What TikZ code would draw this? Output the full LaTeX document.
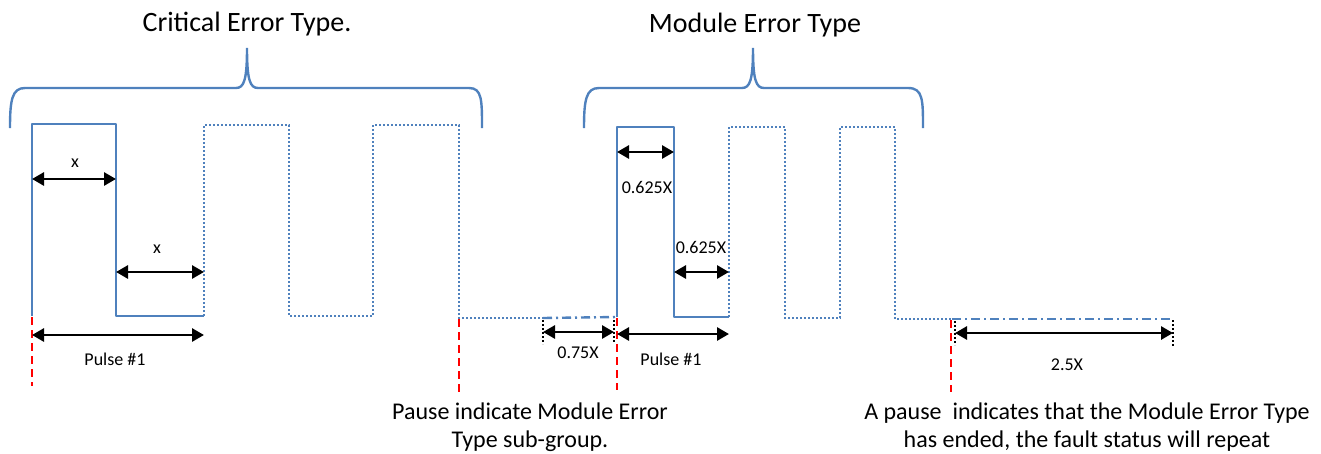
\documentclass[tikz,border=0pt]{standalone}
\usepackage{fontspec}
\setmainfont{Carlito}
\usetikzlibrary{arrows.meta}
\definecolor{wave}{RGB}{79,129,189}
\begin{document}
\begin{tikzpicture}[x=1pt,y=-1pt,
 wsolid/.style={wave,line width=2.4pt,line join=round},
 wdot/.style={wave,line width=2.2pt,dash pattern=on 2pt off 2pt},
 wdashdot/.style={wave,line width=2.4pt,dash pattern=on 9pt off 4pt on 2pt off 4pt},
 redline/.style={red,line width=2.2pt,dash pattern=on 8pt off 5pt},
 tick/.style={black,line width=2.2pt,dash pattern=on 2pt off 2pt},
 dim/.style={black,line width=2.8pt,{Triangle[length=12pt,width=13pt]}-{Triangle[length=12pt,width=13pt]}},
 lbl/.style={font=\fontsize{18}{21}\selectfont,inner sep=0pt,anchor=base},
 title/.style={font=\fontsize{28}{34}\selectfont,inner sep=0pt,anchor=base},
 note/.style={font=\fontsize{24}{28}\selectfont,inner sep=0pt,align=center},
 brace/.style={wave,line width=2.4pt}]
\useasboundingbox (0,0) rectangle (1321,453);

% titles
\node[title] (t1) at (247,31) {Critical Error Type.};
\node[title] (t2) at (755,32) {Module Error Type};

% braces
\draw[brace] (10,128) .. controls (10,100) and (12,88) .. (25,88) -- (236,88)
  .. controls (244,88) and (247,80) .. (247,48)
  .. controls (247,80) and (250,88) .. (258,88) -- (469,88)
  .. controls (482,88) and (482,100) .. (482,128);
\draw[brace] (584,128) .. controls (584,100) and (586,88) .. (599,88) -- (742,88)
  .. controls (750,88) and (753,80) .. (753,48)
  .. controls (753,80) and (756,88) .. (764,88) -- (908,88)
  .. controls (923,88) and (923,100) .. (923,128);

% critical waveform
\draw[wsolid] (32,316) -- (32,124) -- (116,124) -- (116,316) -- (204,316);
\draw[wdot] (204,316) -- (204,125) -- (289,125) -- (289,316) -- (373,316)
  -- (373,125) -- (459,125) -- (459,318) -- (543,318);
\draw[wdashdot] (543,318) -- (617,317);

% module waveform
\draw[wsolid] (617,317) -- (617,127) -- (674,127) -- (674,317) -- (729,317);
\draw[wdot] (729,317) -- (729,127) -- (785,127) -- (785,318) -- (840,318)
  -- (840,127) -- (895,127) -- (895,319) -- (952,319);
\draw[wdashdot] (952,319) -- (1173,319);

% red markers
\draw[redline] (32,317) -- (32,386);
\draw[redline] (459,319) -- (459,392);
\draw[redline] (617,318) -- (617,390);
\draw[redline] (951,320) -- (951,392);

% black ticks
\draw[tick] (543,320) -- (543,344);
\draw[tick] (614,320) -- (614,343);
\draw[tick] (955,321) -- (955,345);
\draw[tick] (1173,320) -- (1173,347);

% dimension arrows
\coordinate (d1l) at (32,179);  \coordinate (d1r) at (116,179);
\coordinate (d2l) at (116,272); \coordinate (d2r) at (204,272);
\coordinate (d3l) at (32,335);  \coordinate (d3r) at (204,335);
\coordinate (d4l) at (543,332); \coordinate (d4r) at (614,332);
\coordinate (d5l) at (617,152); \coordinate (d5r) at (674,152);
\coordinate (d6l) at (674,272); \coordinate (d6r) at (729,272);
\coordinate (d7l) at (617,334); \coordinate (d7r) at (729,334);
\coordinate (d8l) at (955,333); \coordinate (d8r) at (1173,333);
\draw[dim] (d1l) -- (d1r);
\draw[dim] (d2l) -- (d2r);
\draw[dim] (d3l) -- (d3r);
\draw[dim] (d4l) -- (d4r);
\draw[dim] (d5l) -- (d5r);
\draw[dim] (d6l) -- (d6r);
\draw[dim] (d7l) -- (d7r);
\draw[dim] (d8l) -- (d8r);

% labels
\node[lbl] (l1) at (75,167) {x};
\node[lbl] (l2) at (157,253) {x};
\node[lbl] (l3) at (115,365) {Pulse \#1};
\node[lbl] (l4) at (578,358) {0.75X};
\node[lbl] (l5) at (647,193) {0.625X};
\node[lbl] (l6) at (701,253) {0.625X};
\node[lbl] (l7) at (671,365) {Pulse \#1};
\node[lbl] (l8) at (1067,370) {2.5X};

% notes
\node[note] (n1) at (530,427) {Pause indicate Module Error\\Type sub-group.};
\node[note] (n2) at (1087,427) {A pause\ \ indicates that the Module Error Type\\has ended, the fault status will repeat};
\end{tikzpicture}
\end{document}
